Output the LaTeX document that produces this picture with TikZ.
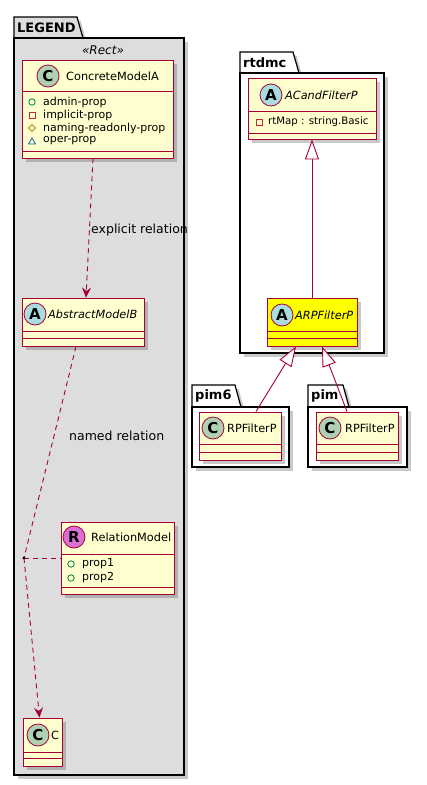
\documentclass[tikz,border=0pt]{standalone}
\usepackage{fontspec}
\setmainfont{DejaVu Sans}
\usetikzlibrary{shadows,arrows.meta,calc}
\definecolor{classbg}{HTML}{FEFECE}
\definecolor{classbd}{HTML}{A80036}
\definecolor{spotC}{HTML}{ADD1B2}
\definecolor{spotA}{HTML}{A9DCDF}
\definecolor{spotR}{HTML}{DA70D6}
\definecolor{pkggray}{HTML}{DDDDDD}
\definecolor{icgreen}{HTML}{038048}
\definecolor{icred}{HTML}{C82930}
\definecolor{icgold}{HTML}{B38D22}
\definecolor{icblue}{HTML}{1963A0}
\definecolor{hiyellow}{HTML}{FFFF00}
\tikzset{
  shad/.style={drop shadow={shadow xshift=3.5pt,shadow yshift=-3.5pt,opacity=0.3,fill=black!70}},
  classbox/.style={draw=classbd,fill=classbg,line width=0.9pt,inner sep=0,shad},
  sepline/.style={draw=classbd,line width=0.9pt},
  spot/.style={circle,draw=classbd,line width=0.8pt,minimum size=22pt,inner sep=0,
    font=\fontsize{15}{15}\selectfont\bfseries},
  cname/.style={anchor=west,inner sep=0,font=\fontsize{11.3}{13}\selectfont},
  aname/.style={anchor=west,inner sep=0,font=\fontsize{11.3}{13}\selectfont\itshape},
  field/.style={anchor=west,inner sep=0,font=\fontsize{11}{13}\selectfont},
  lbl/.style={anchor=west,inner sep=0,font=\fontsize{12.5}{14}\selectfont},
  pkgbody/.style={draw=black,line width=1.2pt,inner sep=0,shad},
  pkgtab/.style={draw=black,line width=1.2pt,shad},
  pkgname/.style={anchor=west,inner sep=0,font=\fontsize{13}{15}\selectfont\bfseries},
  icon/.style={line width=0.8pt},
  dep/.style={draw=classbd,line width=0.9pt,dash pattern=on 5pt off 4pt,
    -{Stealth[length=10pt,width=9pt,inset=3.5pt]}},
  assoc/.style={draw=classbd,line width=0.9pt,dash pattern=on 5pt off 4pt},
  inh/.style={draw=classbd,line width=0.9pt,-{Triangle[length=20pt,width=14pt,fill=white]}},
}
\begin{document}
\begin{tikzpicture}[x=1pt,y=-1pt]
\useasboundingbox (0,0) rectangle (427,785);

% ---------------- LEGEND package ----------------
\draw[pkgtab,fill=pkggray] (14,38) -- (14,17) -- (77,17) -- (83,38) -- cycle;
\node[pkgbody,fill=pkggray,minimum width=170pt,minimum height=737pt] (legend) at (99,406.5) {};
\node[pkgname] (legendname) at (17,28) {LEGEND};
\node[inner sep=0,font=\fontsize{12}{14}\selectfont\itshape] (stereo) at (103,50) {«Rect»};

% ---------------- rtdmc package ----------------
\draw[pkgtab,fill=white] (240,73) -- (240,52) -- (293,52) -- (299,73) -- cycle;
\node[pkgbody,fill=white,minimum width=144pt,minimum height=280pt] (rtdmc) at (312,213) {};
\node[pkgname] (rtdmcname) at (243,63) {rtdmc};

% ---------------- pim6 package ----------------
\draw[pkgtab,fill=white] (192,407) -- (192,385) -- (235,385) -- (241,407) -- cycle;
\node[pkgbody,fill=white,minimum width=97pt,minimum height=60pt] (pimsix) at (240.5,437) {};
\node[pkgname] (pimsixname) at (195,396) {pim6};

% ---------------- pim package ----------------
\draw[pkgtab,fill=white] (308,407) -- (308,385) -- (343,385) -- (349,407) -- cycle;
\node[pkgbody,fill=white,minimum width=99pt,minimum height=60pt] (pim) at (357.5,437) {};
\node[pkgname] (pimname) at (311,396) {pim};

% ---------------- class boxes ----------------
\coordinate (dot) at (24,558);
\node[classbox,minimum width=122pt,minimum height=48pt] (amb) at (83,322) {};
\node[classbox,minimum width=151pt,minimum height=98pt] (cma) at (97.5,109) {};
\node[classbox,minimum width=113pt,minimum height=72pt] (rm) at (117.5,558) {};
\node[classbox,minimum width=39pt,minimum height=48pt] (cc) at (42.5,742) {};
\node[classbox,minimum width=128pt,minimum height=61pt] (acf) at (312,108.5) {};
\node[classbox,fill=hiyellow,minimum width=90pt,minimum height=48pt] (arp) at (312,322) {};
\node[classbox,minimum width=82pt,minimum height=48pt] (rpsix) at (240,436) {};
\node[classbox,minimum width=82pt,minimum height=48pt] (rp) at (357,436) {};

% ---------------- edges ----------------
\draw[dep] ($(cma.south)+(-4.5,0)$) -- ($(amb.north)+(3,0)$);
\node[lbl] (explbl) at (91,230) {explicit relation};
\draw[assoc] ($(amb.south)+(-7,0)$) -- (dot);
\node[lbl] (namedlbl) at (69,436) {named relation};
\draw[assoc] (dot) -- (rm.west);
\draw[dep] (dot) -- ($(cc.north)+(-3,0)$);
\fill (dot) circle (1.6pt);

\draw[inh] (arp.north) -- (acf.south);
\draw[inh] ($(rpsix.north)+(16,0)$) -- ($(arp.south)+(-16,0)$);
\draw[inh] ($(rp.north)+(-10,0)$) -- ($(arp.south)+(10,0)$);

% ---------------- ConcreteModelA ----------------
\draw[sepline] (22,91) -- (173,91);
\draw[sepline] (22,151) -- (173,151);
\node[spot,fill=spotC] (cmaspot) at (48,76) {C};
\node[cname] (cmaname) at (66,76) {ConcreteModelA};
\draw[icon,draw=icgreen] (32,102) circle (3.2pt);
\draw[icon,draw=icred] (29,112) rectangle (35,118);
\draw[icon,draw=icgold] (32,124.5) -- (35.5,128) -- (32,131.5) -- (28.5,128) -- cycle;
\draw[icon,draw=icblue] (28.5,144) -- (35.5,144) -- (32,138) -- cycle;
\node[field] (f1) at (43,102) {admin-prop};
\node[field] (f2) at (43,115) {implicit-prop};
\node[field] (f3) at (43,128) {naming-readonly-prop};
\node[field] (f4) at (43,141) {oper-prop};

% ---------------- AbstractModelB ----------------
\draw[sepline] (22,331) -- (144,331);
\draw[sepline] (22,338) -- (144,338);
\node[spot,fill=spotA] (ambspot) at (35,314) {A};
\node[aname] (ambname) at (48,314) {AbstractModelB};

% ---------------- RelationModel ----------------
\draw[sepline] (61,554) -- (174,554);
\draw[sepline] (61,587) -- (174,587);
\node[spot,fill=spotR] (rmspot) at (74,537) {R};
\node[cname] (rmname) at (91,537) {RelationModel};
\draw[icon,draw=icgreen] (71,564) circle (3.2pt);
\draw[icon,draw=icgreen] (71,578) circle (3.2pt);
\node[field] (p1) at (82,564) {prop1};
\node[field] (p2) at (82,578) {prop2};

% ---------------- C ----------------
\draw[sepline] (23,752) -- (62,752);
\draw[sepline] (23,758) -- (62,758);
\node[spot,fill=spotC] (ccspot) at (38,735) {C};
\node[cname] (ccname) at (51,735) {C};

% ---------------- ACandFilterP ----------------
\draw[sepline] (248,111) -- (376,111);
\draw[sepline] (248,133) -- (376,133);
\node[spot,fill=spotA] (acfspot) at (271,95) {A};
\node[aname] (acfname) at (285,95) {ACandFilterP};
\draw[icon,draw=icred] (256,119) rectangle (262,125);
\node[field,font=\fontsize{10.2}{13}\selectfont] (rtmap) at (268,122) {rtMap : string.Basic};

% ---------------- ARPFilterP ----------------
\draw[sepline] (267,331) -- (357,331);
\draw[sepline] (267,338) -- (357,338);
\node[spot,fill=spotA] (arpspot) at (282,315) {A};
\node[aname] (arpname) at (295,315) {ARPFilterP};

% ---------------- pim6 RPFilterP ----------------
\draw[sepline] (199,444) -- (281,444);
\draw[sepline] (199,452) -- (281,452);
\node[spot,fill=spotC] (rpsixspot) at (213,428) {C};
\node[cname] (rpsixname) at (227,428) {RPFilterP};

% ---------------- pim RPFilterP ----------------
\draw[sepline] (316,444) -- (398,444);
\draw[sepline] (316,452) -- (398,452);
\node[spot,fill=spotC] (rpspot) at (330,428) {C};
\node[cname] (rpname) at (345,428) {RPFilterP};
\end{tikzpicture}
\end{document}
